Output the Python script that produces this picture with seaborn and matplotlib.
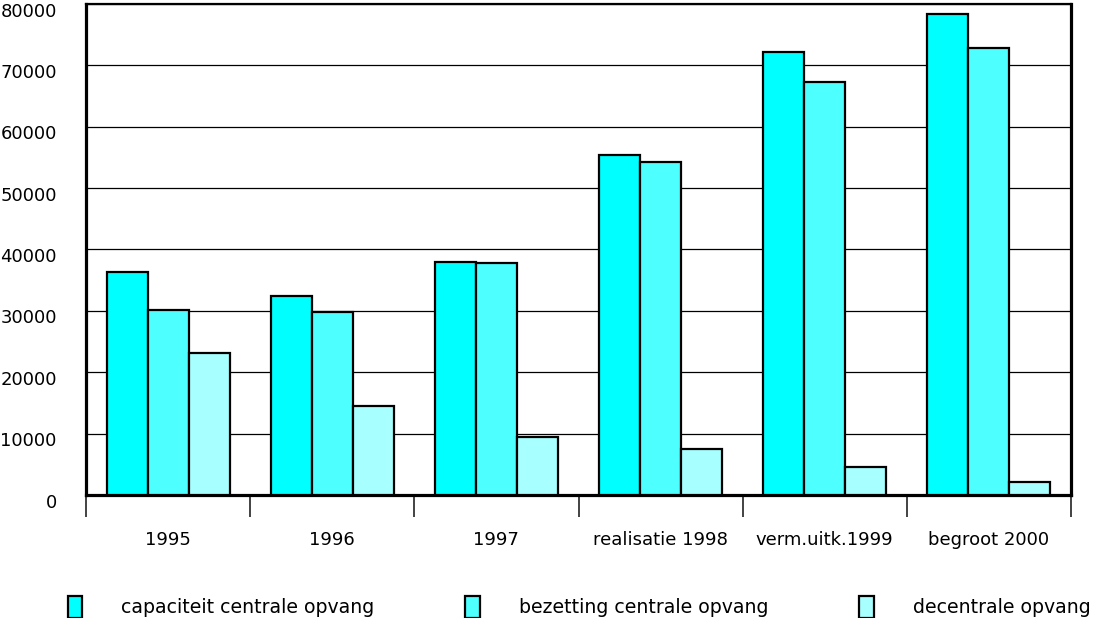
import numpy as np
import pandas as pd
import matplotlib
matplotlib.use("Agg")
import matplotlib.pyplot as plt
import matplotlib.transforms as mtransforms
from matplotlib.patches import Patch
import seaborn as sns

years = ["1995", "1996", "1997", "realisatie 1998", "verm.uitk.1999", "begroot 2000"]
series = ["capaciteit centrale opvang", "bezetting centrale opvang", "decentrale opvang"]
capaciteit = [36300, 32400, 37900, 55400, 72150, 78300]
bezetting = [30100, 29800, 37800, 54200, 67250, 72800]
decentraal = [23100, 14500, 9450, 7500, 4600, 2100]
colors = ["#00FFFF", "#4DFFFF", "#A8FFFF"]

df = pd.DataFrame({
    "jaar": years * 3,
    "reeks": [series[0]] * 6 + [series[1]] * 6 + [series[2]] * 6,
    "aantal": capaciteit + bezetting + decentraal,
})

sns.set_style("white")
plt.rcParams["font.family"] = ["DejaVu Sans"]

fig = plt.figure(figsize=(10.93, 6.18), dpi=100)
ax = fig.add_axes([86 / 1093, 1 - 495 / 618, (1071 - 86) / 1093, (495 - 4) / 618])

sns.barplot(data=df, x="jaar", y="aantal", hue="reeks", order=years, hue_order=series,
            palette=colors, width=0.75, gap=0, edgecolor="black", linewidth=1.6,
            saturation=1, legend=False, ax=ax, zorder=3)

ax.set_ylim(0, 80000)
ax.set_xlim(-0.5, 5.5)
ax.set_yticks(np.arange(0, 80001, 10000))
ax.yaxis.grid(True, color="black", linewidth=0.9, zorder=0)
ax.set_axisbelow(True)
ax.set_xlabel("")
ax.set_ylabel("")

for side in ["left", "bottom", "right"]:
    ax.spines[side].set_linewidth(2.3)
    ax.spines[side].set_color("black")
ax.spines["top"].set_linewidth(1.6)
ax.spines["top"].set_color("black")

ax.tick_params(axis="y", length=0, pad=21, labelsize=13, labelcolor="black")
ax.tick_params(axis="x", which="major", length=0, pad=26, labelsize=13, labelcolor="black")
ax.set_xticks(np.arange(-0.5, 6, 1), minor=True)
ax.tick_params(axis="x", which="minor", bottom=True, length=16, width=1.2,
               color="#222222", direction="out")

# tick labels sit slightly below their grid line in the original
offset = mtransforms.ScaledTranslation(0, -4 / 72, fig.dpi_scale_trans)
for lab in ax.get_yticklabels():
    lab.set_transform(lab.get_transform() + offset)

handles = [Patch(facecolor=c, edgecolor="black", linewidth=1.6) for c in colors]
fig.legend(handles, series, loc="center", bbox_to_anchor=(0.53, 0.018), ncol=3,
           frameon=False, fontsize=13.6, handlelength=0.75, handleheight=1.4,
           handletextpad=2.1, columnspacing=4.8, labelcolor="black")

fig.savefig("out.png", dpi=100)
